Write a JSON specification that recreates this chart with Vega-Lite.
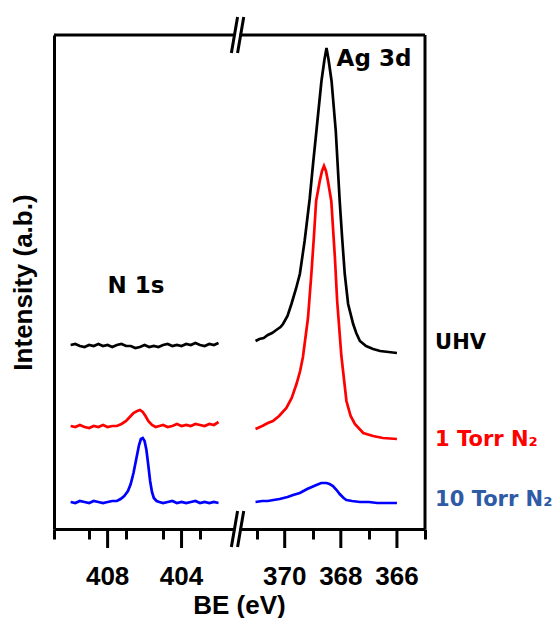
{
  "$schema": "https://vega.github.io/schema/vega-lite/v6.json",
  "background": "white",
  "padding": {"left": 10, "top": 15, "right": 0, "bottom": 0},
  "spacing": 0,
  "bounds": "flush",
  "config": {"view": {"stroke": null}, "font": "Liberation Sans"},
  "datasets": {
    "spectra": [
      {"region": "N", "series": "UHV", "be": 410.0, "intensity": 184},
      {"region": "N", "series": "UHV", "be": 409.75, "intensity": 185},
      {"region": "N", "series": "UHV", "be": 409.5, "intensity": 183},
      {"region": "N", "series": "UHV", "be": 409.25, "intensity": 182},
      {"region": "N", "series": "UHV", "be": 409.0, "intensity": 184},
      {"region": "N", "series": "UHV", "be": 408.75, "intensity": 183},
      {"region": "N", "series": "UHV", "be": 408.5, "intensity": 185},
      {"region": "N", "series": "UHV", "be": 408.25, "intensity": 183},
      {"region": "N", "series": "UHV", "be": 408.0, "intensity": 184},
      {"region": "N", "series": "UHV", "be": 407.75, "intensity": 182},
      {"region": "N", "series": "UHV", "be": 407.5, "intensity": 184},
      {"region": "N", "series": "UHV", "be": 407.25, "intensity": 185},
      {"region": "N", "series": "UHV", "be": 407.0, "intensity": 183},
      {"region": "N", "series": "UHV", "be": 406.75, "intensity": 183},
      {"region": "N", "series": "UHV", "be": 406.5, "intensity": 181},
      {"region": "N", "series": "UHV", "be": 406.25, "intensity": 182},
      {"region": "N", "series": "UHV", "be": 406.0, "intensity": 184},
      {"region": "N", "series": "UHV", "be": 405.75, "intensity": 182},
      {"region": "N", "series": "UHV", "be": 405.5, "intensity": 183},
      {"region": "N", "series": "UHV", "be": 405.25, "intensity": 182},
      {"region": "N", "series": "UHV", "be": 405.0, "intensity": 184},
      {"region": "N", "series": "UHV", "be": 404.75, "intensity": 185},
      {"region": "N", "series": "UHV", "be": 404.5, "intensity": 183},
      {"region": "N", "series": "UHV", "be": 404.25, "intensity": 184},
      {"region": "N", "series": "UHV", "be": 404.0, "intensity": 183},
      {"region": "N", "series": "UHV", "be": 403.75, "intensity": 185},
      {"region": "N", "series": "UHV", "be": 403.5, "intensity": 184},
      {"region": "N", "series": "UHV", "be": 403.25, "intensity": 186},
      {"region": "N", "series": "UHV", "be": 403.0, "intensity": 184},
      {"region": "N", "series": "UHV", "be": 402.75, "intensity": 183},
      {"region": "N", "series": "UHV", "be": 402.5, "intensity": 185},
      {"region": "N", "series": "UHV", "be": 402.25, "intensity": 184},
      {"region": "N", "series": "UHV", "be": 402.0, "intensity": 186},

      {"region": "N", "series": "1 Torr", "be": 410.0, "intensity": 103},
      {"region": "N", "series": "1 Torr", "be": 409.75, "intensity": 102},
      {"region": "N", "series": "1 Torr", "be": 409.5, "intensity": 104},
      {"region": "N", "series": "1 Torr", "be": 409.25, "intensity": 102},
      {"region": "N", "series": "1 Torr", "be": 409.0, "intensity": 101},
      {"region": "N", "series": "1 Torr", "be": 408.75, "intensity": 103},
      {"region": "N", "series": "1 Torr", "be": 408.5, "intensity": 102},
      {"region": "N", "series": "1 Torr", "be": 408.25, "intensity": 104},
      {"region": "N", "series": "1 Torr", "be": 408.0, "intensity": 102},
      {"region": "N", "series": "1 Torr", "be": 407.75, "intensity": 103},
      {"region": "N", "series": "1 Torr", "be": 407.5, "intensity": 103},
      {"region": "N", "series": "1 Torr", "be": 407.25, "intensity": 105},
      {"region": "N", "series": "1 Torr", "be": 407.0, "intensity": 108},
      {"region": "N", "series": "1 Torr", "be": 406.8, "intensity": 112},
      {"region": "N", "series": "1 Torr", "be": 406.6, "intensity": 116},
      {"region": "N", "series": "1 Torr", "be": 406.4, "intensity": 118},
      {"region": "N", "series": "1 Torr", "be": 406.25, "intensity": 119},
      {"region": "N", "series": "1 Torr", "be": 406.1, "intensity": 117},
      {"region": "N", "series": "1 Torr", "be": 405.95, "intensity": 113},
      {"region": "N", "series": "1 Torr", "be": 405.8, "intensity": 108},
      {"region": "N", "series": "1 Torr", "be": 405.6, "intensity": 104},
      {"region": "N", "series": "1 Torr", "be": 405.4, "intensity": 102},
      {"region": "N", "series": "1 Torr", "be": 405.2, "intensity": 103},
      {"region": "N", "series": "1 Torr", "be": 405.0, "intensity": 104},
      {"region": "N", "series": "1 Torr", "be": 404.75, "intensity": 102},
      {"region": "N", "series": "1 Torr", "be": 404.5, "intensity": 103},
      {"region": "N", "series": "1 Torr", "be": 404.25, "intensity": 105},
      {"region": "N", "series": "1 Torr", "be": 404.0, "intensity": 103},
      {"region": "N", "series": "1 Torr", "be": 403.75, "intensity": 104},
      {"region": "N", "series": "1 Torr", "be": 403.5, "intensity": 103},
      {"region": "N", "series": "1 Torr", "be": 403.25, "intensity": 105},
      {"region": "N", "series": "1 Torr", "be": 403.0, "intensity": 104},
      {"region": "N", "series": "1 Torr", "be": 402.75, "intensity": 103},
      {"region": "N", "series": "1 Torr", "be": 402.5, "intensity": 105},
      {"region": "N", "series": "1 Torr", "be": 402.25, "intensity": 104},
      {"region": "N", "series": "1 Torr", "be": 402.0, "intensity": 107},

      {"region": "N", "series": "10 Torr", "be": 410.0, "intensity": 27},
      {"region": "N", "series": "10 Torr", "be": 409.75, "intensity": 26},
      {"region": "N", "series": "10 Torr", "be": 409.5, "intensity": 28},
      {"region": "N", "series": "10 Torr", "be": 409.25, "intensity": 27},
      {"region": "N", "series": "10 Torr", "be": 409.0, "intensity": 26},
      {"region": "N", "series": "10 Torr", "be": 408.75, "intensity": 28},
      {"region": "N", "series": "10 Torr", "be": 408.5, "intensity": 27},
      {"region": "N", "series": "10 Torr", "be": 408.25, "intensity": 26},
      {"region": "N", "series": "10 Torr", "be": 408.0, "intensity": 27},
      {"region": "N", "series": "10 Torr", "be": 407.75, "intensity": 28},
      {"region": "N", "series": "10 Torr", "be": 407.5, "intensity": 28},
      {"region": "N", "series": "10 Torr", "be": 407.3, "intensity": 30},
      {"region": "N", "series": "10 Torr", "be": 407.1, "intensity": 33},
      {"region": "N", "series": "10 Torr", "be": 406.9, "intensity": 38},
      {"region": "N", "series": "10 Torr", "be": 406.75, "intensity": 45},
      {"region": "N", "series": "10 Torr", "be": 406.6, "intensity": 56},
      {"region": "N", "series": "10 Torr", "be": 406.45, "intensity": 70},
      {"region": "N", "series": "10 Torr", "be": 406.3, "intensity": 84},
      {"region": "N", "series": "10 Torr", "be": 406.2, "intensity": 90},
      {"region": "N", "series": "10 Torr", "be": 406.1, "intensity": 91},
      {"region": "N", "series": "10 Torr", "be": 406.0, "intensity": 88},
      {"region": "N", "series": "10 Torr", "be": 405.9, "intensity": 79},
      {"region": "N", "series": "10 Torr", "be": 405.8, "intensity": 64},
      {"region": "N", "series": "10 Torr", "be": 405.7, "intensity": 48},
      {"region": "N", "series": "10 Torr", "be": 405.6, "intensity": 37},
      {"region": "N", "series": "10 Torr", "be": 405.5, "intensity": 31},
      {"region": "N", "series": "10 Torr", "be": 405.35, "intensity": 28},
      {"region": "N", "series": "10 Torr", "be": 405.2, "intensity": 27},
      {"region": "N", "series": "10 Torr", "be": 405.0, "intensity": 26},
      {"region": "N", "series": "10 Torr", "be": 404.75, "intensity": 27},
      {"region": "N", "series": "10 Torr", "be": 404.5, "intensity": 28},
      {"region": "N", "series": "10 Torr", "be": 404.25, "intensity": 26},
      {"region": "N", "series": "10 Torr", "be": 404.0, "intensity": 27},
      {"region": "N", "series": "10 Torr", "be": 403.75, "intensity": 26},
      {"region": "N", "series": "10 Torr", "be": 403.5, "intensity": 27},
      {"region": "N", "series": "10 Torr", "be": 403.25, "intensity": 28},
      {"region": "N", "series": "10 Torr", "be": 403.0, "intensity": 26},
      {"region": "N", "series": "10 Torr", "be": 402.75, "intensity": 27},
      {"region": "N", "series": "10 Torr", "be": 402.5, "intensity": 26},
      {"region": "N", "series": "10 Torr", "be": 402.25, "intensity": 27},
      {"region": "N", "series": "10 Torr", "be": 402.0, "intensity": 26},

      {"region": "Ag", "series": "UHV", "be": 371.04, "intensity": 188},
      {"region": "Ag", "series": "UHV", "be": 370.9, "intensity": 190},
      {"region": "Ag", "series": "UHV", "be": 370.75, "intensity": 191},
      {"region": "Ag", "series": "UHV", "be": 370.6, "intensity": 194},
      {"region": "Ag", "series": "UHV", "be": 370.45, "intensity": 196},
      {"region": "Ag", "series": "UHV", "be": 370.3, "intensity": 199},
      {"region": "Ag", "series": "UHV", "be": 370.15, "intensity": 202},
      {"region": "Ag", "series": "UHV", "be": 370.06, "intensity": 205},
      {"region": "Ag", "series": "UHV", "be": 369.9, "intensity": 213},
      {"region": "Ag", "series": "UHV", "be": 369.76, "intensity": 225},
      {"region": "Ag", "series": "UHV", "be": 369.6, "intensity": 240},
      {"region": "Ag", "series": "UHV", "be": 369.46, "intensity": 255},
      {"region": "Ag", "series": "UHV", "be": 369.29, "intensity": 288},
      {"region": "Ag", "series": "UHV", "be": 369.11, "intensity": 330},
      {"region": "Ag", "series": "UHV", "be": 368.99, "intensity": 365},
      {"region": "Ag", "series": "UHV", "be": 368.87, "intensity": 398},
      {"region": "Ag", "series": "UHV", "be": 368.69, "intensity": 448},
      {"region": "Ag", "series": "UHV", "be": 368.58, "intensity": 470},
      {"region": "Ag", "series": "UHV", "be": 368.51, "intensity": 481},
      {"region": "Ag", "series": "UHV", "be": 368.44, "intensity": 470},
      {"region": "Ag", "series": "UHV", "be": 368.33, "intensity": 448},
      {"region": "Ag", "series": "UHV", "be": 368.18, "intensity": 398},
      {"region": "Ag", "series": "UHV", "be": 368.04, "intensity": 328},
      {"region": "Ag", "series": "UHV", "be": 367.95, "intensity": 290},
      {"region": "Ag", "series": "UHV", "be": 367.86, "intensity": 255},
      {"region": "Ag", "series": "UHV", "be": 367.74, "intensity": 225},
      {"region": "Ag", "series": "UHV", "be": 367.56, "intensity": 205},
      {"region": "Ag", "series": "UHV", "be": 367.45, "intensity": 196},
      {"region": "Ag", "series": "UHV", "be": 367.32, "intensity": 188},
      {"region": "Ag", "series": "UHV", "be": 367.1, "intensity": 183},
      {"region": "Ag", "series": "UHV", "be": 366.85, "intensity": 180},
      {"region": "Ag", "series": "UHV", "be": 366.6, "intensity": 178},
      {"region": "Ag", "series": "UHV", "be": 366.3, "intensity": 177},
      {"region": "Ag", "series": "UHV", "be": 366.0, "intensity": 176},

      {"region": "Ag", "series": "1 Torr", "be": 371.04, "intensity": 100},
      {"region": "Ag", "series": "1 Torr", "be": 370.8, "intensity": 103},
      {"region": "Ag", "series": "1 Torr", "be": 370.6, "intensity": 106},
      {"region": "Ag", "series": "1 Torr", "be": 370.42, "intensity": 108},
      {"region": "Ag", "series": "1 Torr", "be": 370.2, "intensity": 113},
      {"region": "Ag", "series": "1 Torr", "be": 369.94, "intensity": 121},
      {"region": "Ag", "series": "1 Torr", "be": 369.75, "intensity": 131},
      {"region": "Ag", "series": "1 Torr", "be": 369.58, "intensity": 145},
      {"region": "Ag", "series": "1 Torr", "be": 369.45, "intensity": 158},
      {"region": "Ag", "series": "1 Torr", "be": 369.35, "intensity": 172},
      {"region": "Ag", "series": "1 Torr", "be": 369.17, "intensity": 211},
      {"region": "Ag", "series": "1 Torr", "be": 369.05, "intensity": 255},
      {"region": "Ag", "series": "1 Torr", "be": 368.96, "intensity": 292},
      {"region": "Ag", "series": "1 Torr", "be": 368.88, "intensity": 328},
      {"region": "Ag", "series": "1 Torr", "be": 368.75, "intensity": 348},
      {"region": "Ag", "series": "1 Torr", "be": 368.67, "intensity": 358},
      {"region": "Ag", "series": "1 Torr", "be": 368.6, "intensity": 363},
      {"region": "Ag", "series": "1 Torr", "be": 368.53, "intensity": 358},
      {"region": "Ag", "series": "1 Torr", "be": 368.46, "intensity": 348},
      {"region": "Ag", "series": "1 Torr", "be": 368.34, "intensity": 328},
      {"region": "Ag", "series": "1 Torr", "be": 368.21, "intensity": 271},
      {"region": "Ag", "series": "1 Torr", "be": 368.13, "intensity": 228},
      {"region": "Ag", "series": "1 Torr", "be": 367.98, "intensity": 173},
      {"region": "Ag", "series": "1 Torr", "be": 367.8, "intensity": 128},
      {"region": "Ag", "series": "1 Torr", "be": 367.65, "intensity": 113},
      {"region": "Ag", "series": "1 Torr", "be": 367.5, "intensity": 105},
      {"region": "Ag", "series": "1 Torr", "be": 367.2, "intensity": 96},
      {"region": "Ag", "series": "1 Torr", "be": 366.85, "intensity": 93},
      {"region": "Ag", "series": "1 Torr", "be": 366.5, "intensity": 91},
      {"region": "Ag", "series": "1 Torr", "be": 366.0, "intensity": 90},

      {"region": "Ag", "series": "10 Torr", "be": 371.04, "intensity": 27},
      {"region": "Ag", "series": "10 Torr", "be": 370.8, "intensity": 28},
      {"region": "Ag", "series": "10 Torr", "be": 370.6, "intensity": 28},
      {"region": "Ag", "series": "10 Torr", "be": 370.4, "intensity": 29},
      {"region": "Ag", "series": "10 Torr", "be": 370.18, "intensity": 30},
      {"region": "Ag", "series": "10 Torr", "be": 369.9, "intensity": 32},
      {"region": "Ag", "series": "10 Torr", "be": 369.7, "intensity": 34},
      {"region": "Ag", "series": "10 Torr", "be": 369.46, "intensity": 36},
      {"region": "Ag", "series": "10 Torr", "be": 369.2, "intensity": 40},
      {"region": "Ag", "series": "10 Torr", "be": 368.87, "intensity": 44},
      {"region": "Ag", "series": "10 Torr", "be": 368.7, "intensity": 46},
      {"region": "Ag", "series": "10 Torr", "be": 368.51, "intensity": 46},
      {"region": "Ag", "series": "10 Torr", "be": 368.4, "intensity": 45},
      {"region": "Ag", "series": "10 Torr", "be": 368.28, "intensity": 43},
      {"region": "Ag", "series": "10 Torr", "be": 368.15, "intensity": 39},
      {"region": "Ag", "series": "10 Torr", "be": 368.04, "intensity": 35},
      {"region": "Ag", "series": "10 Torr", "be": 367.9, "intensity": 31},
      {"region": "Ag", "series": "10 Torr", "be": 367.8, "intensity": 29},
      {"region": "Ag", "series": "10 Torr", "be": 367.6, "intensity": 28},
      {"region": "Ag", "series": "10 Torr", "be": 367.32, "intensity": 27},
      {"region": "Ag", "series": "10 Torr", "be": 367.0, "intensity": 27},
      {"region": "Ag", "series": "10 Torr", "be": 366.7, "intensity": 26},
      {"region": "Ag", "series": "10 Torr", "be": 366.4, "intensity": 26},
      {"region": "Ag", "series": "10 Torr", "be": 366.0, "intensity": 26}
    ],
    "labels": [
      {"label": "N 1s", "be": 408.0, "intensity": 236, "kind": "region"},
      {"label": "Ag 3d", "be": 368.15, "intensity": 463, "kind": "region"},
      {"label": "UHV", "be": 364.64, "intensity": 180, "kind": "black"},
      {"label": "1 Torr N₂", "be": 364.64, "intensity": 83, "kind": "red"},
      {"label": "10 Torr N₂", "be": 364.64, "intensity": 23, "kind": "blue"}
    ],
    "majorN": [{"be": 408}, {"be": 404}],
    "majorAg": [{"be": 370}, {"be": 368}, {"be": 366}],
    "breaks": [
      {"be": 371.9, "be2": 371.68, "lo": -18, "hi": 18},
      {"be": 371.68, "be2": 371.46, "lo": -18, "hi": 18},
      {"be": 371.9, "be2": 371.68, "lo": 476, "hi": 512},
      {"be": 371.68, "be2": 371.46, "lo": 476, "hi": 512}
    ],
    "masks": [
      {"be": 371.76, "be2": 371.61, "lo": 0},
      {"be": 371.76, "be2": 371.61, "lo": 494}
    ]
  },
  "hconcat": [
    {
      "width": 183,
      "height": 494,
      "layer": [
        {
          "data": {"name": "spectra"},
          "transform": [{"filter": "datum.region === 'N'"}],
          "mark": {"type": "line", "strokeWidth": 2.7},
          "encoding": {
            "x": {
              "field": "be", "type": "quantitative",
              "scale": {"domain": [410.9, 401], "nice": false, "zero": false},
              "axis": {
                "orient": "bottom",
                "values": [410.9, 410, 409, 408, 407, 406, 405, 404, 403, 402],
                "labels": false,
                "tickSize": 10,
                "tickWidth": 3, "tickColor": "black",
                "domainWidth": 3, "domainColor": "black", "grid": false,
                "title": "BE (eV)", "titleFont": "Liberation Sans", "titleFontSize": 26, "titleFontWeight": "bold", "titleColor": "black",
                "titleX": 185, "titleY": 84, "titleBaseline": "alphabetic", "titleAlign": "center"
              }
            },
            "y": {
              "field": "intensity", "type": "quantitative",
              "scale": {"domain": [0, 494], "nice": false, "zero": false},
              "axis": {
                "orient": "left", "ticks": false, "labels": false, "grid": false,
                "domainWidth": 3, "domainColor": "black",
                "title": "Intensity (a.b.)", "titleFont": "Liberation Sans", "titleFontSize": 26, "titleFontWeight": "bold", "titleColor": "black",
                "titlePadding": 18
              }
            },
            "color": {
              "field": "series", "type": "nominal",
              "scale": {"domain": ["UHV", "1 Torr", "10 Torr"], "range": ["#000000", "#ff0000", "#0000ff"]},
              "legend": null
            }
          }
        },
        {
          "data": {"values": [{}]},
          "mark": {"type": "rule", "strokeWidth": 3, "color": "black"},
          "encoding": {"y": {"datum": 494}}
        },
        {
          "data": {"name": "majorN"},
          "mark": {"type": "rule", "strokeWidth": 3, "color": "black"},
          "encoding": {
            "x": {"field": "be", "type": "quantitative"},
            "y": {"datum": 0},
            "y2": {"datum": -19}
          }
        },
        {
          "data": {"name": "majorN"},
          "mark": {"type": "text", "font": "Liberation Sans", "fontSize": 26, "fontWeight": "bold", "color": "black", "align": "center", "baseline": "alphabetic", "dy": 56},
          "encoding": {
            "x": {"field": "be", "type": "quantitative"},
            "y": {"datum": 0},
            "text": {"field": "be", "type": "quantitative", "format": "d"}
          }
        },
        {
          "data": {"name": "labels"},
          "transform": [{"filter": "datum.label === 'N 1s'"}],
          "mark": {"type": "text", "font": "DejaVu Sans", "fontSize": 23, "fontWeight": "bold", "align": "left", "baseline": "alphabetic", "color": "black"},
          "encoding": {
            "x": {"field": "be", "type": "quantitative"},
            "y": {"field": "intensity", "type": "quantitative"},
            "text": {"field": "label"}
          }
        }
      ]
    },
    {
      "width": 188,
      "height": 494,
      "layer": [
        {
          "data": {"name": "spectra"},
          "transform": [{"filter": "datum.region === 'Ag'"}],
          "mark": {"type": "line", "strokeWidth": 2.7},
          "encoding": {
            "x": {
              "field": "be", "type": "quantitative",
              "scale": {"domain": [371.7, 365], "nice": false, "zero": false},
              "axis": {
                "orient": "bottom",
                "values": [371, 370, 369, 368, 367, 366, 365],
                "labels": false,
                "tickSize": 10,
                "tickWidth": 3, "tickColor": "black",
                "domainWidth": 3, "domainColor": "black", "grid": false,
                "title": null
              }
            },
            "y": {
              "field": "intensity", "type": "quantitative",
              "scale": {"domain": [0, 494], "nice": false, "zero": false},
              "axis": null
            },
            "color": {
              "field": "series", "type": "nominal",
              "scale": {"domain": ["UHV", "1 Torr", "10 Torr"], "range": ["#000000", "#ff0000", "#0000ff"]},
              "legend": null
            }
          }
        },
        {
          "data": {"values": [{}]},
          "mark": {"type": "rule", "strokeWidth": 3, "color": "black"},
          "encoding": {"y": {"datum": 494}}
        },
        {
          "data": {"values": [{}]},
          "mark": {"type": "rule", "strokeWidth": 3, "color": "black"},
          "encoding": {"x": {"datum": 365}}
        },
        {
          "data": {"name": "majorAg"},
          "mark": {"type": "rule", "strokeWidth": 3, "color": "black"},
          "encoding": {
            "x": {"field": "be", "type": "quantitative"},
            "y": {"datum": 0},
            "y2": {"datum": -19}
          }
        },
        {
          "data": {"name": "majorAg"},
          "mark": {"type": "text", "font": "Liberation Sans", "fontSize": 26, "fontWeight": "bold", "color": "black", "align": "center", "baseline": "alphabetic", "dy": 56},
          "encoding": {
            "x": {"field": "be", "type": "quantitative"},
            "y": {"datum": 0},
            "text": {"field": "be", "type": "quantitative", "format": "d"}
          }
        },
        {
          "data": {"name": "masks"},
          "mark": {"type": "rule", "strokeWidth": 6, "color": "white"},
          "encoding": {
            "x": {"field": "be", "type": "quantitative"},
            "x2": {"field": "be2"},
            "y": {"field": "lo", "type": "quantitative"}
          }
        },
        {
          "data": {"name": "breaks"},
          "mark": {"type": "rule", "strokeWidth": 3, "color": "black"},
          "encoding": {
            "x": {"field": "be", "type": "quantitative"},
            "x2": {"field": "be2"},
            "y": {"field": "lo", "type": "quantitative"},
            "y2": {"field": "hi"}
          }
        },
        {
          "data": {"name": "labels"},
          "transform": [{"filter": "datum.label === 'Ag 3d'"}],
          "mark": {"type": "text", "font": "DejaVu Sans", "fontSize": 23, "fontWeight": "bold", "align": "left", "baseline": "alphabetic", "color": "black"},
          "encoding": {
            "x": {"field": "be", "type": "quantitative"},
            "y": {"field": "intensity", "type": "quantitative"},
            "text": {"field": "label"}
          }
        },
        {
          "data": {"name": "labels"},
          "transform": [{"filter": "datum.kind === 'black'"}],
          "mark": {"type": "text", "font": "DejaVu Sans", "fontSize": 21, "fontWeight": "bold", "align": "left", "baseline": "alphabetic", "color": "black"},
          "encoding": {
            "x": {"field": "be", "type": "quantitative"},
            "y": {"field": "intensity", "type": "quantitative"},
            "text": {"field": "label"}
          }
        },
        {
          "data": {"name": "labels"},
          "transform": [{"filter": "datum.kind === 'red'"}],
          "mark": {"type": "text", "font": "DejaVu Sans", "fontSize": 21, "fontWeight": "bold", "align": "left", "baseline": "alphabetic", "color": "#ff0000"},
          "encoding": {
            "x": {"field": "be", "type": "quantitative"},
            "y": {"field": "intensity", "type": "quantitative"},
            "text": {"field": "label"}
          }
        },
        {
          "data": {"name": "labels"},
          "transform": [{"filter": "datum.kind === 'blue'"}],
          "mark": {"type": "text", "font": "DejaVu Sans", "fontSize": 21, "fontWeight": "bold", "align": "left", "baseline": "alphabetic", "color": "#2e5aa6"},
          "encoding": {
            "x": {"field": "be", "type": "quantitative"},
            "y": {"field": "intensity", "type": "quantitative"},
            "text": {"field": "label"}
          }
        }
      ]
    }
  ]
}
